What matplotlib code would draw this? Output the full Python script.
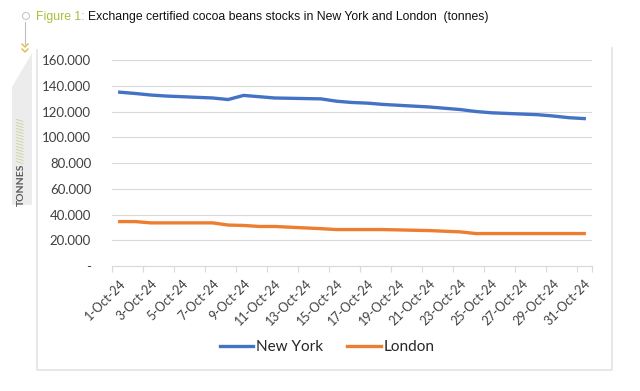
import numpy as np
import matplotlib
matplotlib.use("Agg")
import matplotlib.pyplot as plt
from matplotlib.patches import Polygon, Circle

# business days of October 2024 (day of month)
days = [1, 2, 3, 4, 7, 8, 9, 10, 11, 14, 15, 16, 17, 18, 21, 22, 23, 24, 25, 28, 29, 30, 31]
new_york = [135000, 134000, 132800, 132000, 130500, 129300, 132500, 131500, 130500, 129800,
            128000, 127000, 126500, 125500, 123500, 122500, 121500, 120000, 119000, 117500,
            116500, 115200, 114500]
london = [34500, 34500, 33500, 33500, 33500, 31800, 31500, 30700, 30700, 29000, 28300, 28300,
          28300, 28300, 27500, 27000, 26500, 25200, 25200, 25200, 25200, 25200, 25200]
label_days = list(range(1, 32, 2))
yticks = [0, 20000, 40000, 60000, 80000, 100000, 120000, 140000, 160000]

BLUE, ORANGE = "#4472C4", "#ED7D31"
GRID = "#d9d9d9"
TXT = "#404040"

W, H = 640, 391
fig = plt.figure(figsize=(W / 100, H / 100), dpi=100)

ax = fig.add_axes([112 / W, 1 - 266 / H, 480 / W, 206 / H])
ax.plot(days, new_york, color=BLUE, lw=2.4, label="New York")
ax.plot(days, london, color=ORANGE, lw=2.4, label="London")
ax.set_xlim(0.5, 31.5)
ax.set_ylim(0, 160000)
ax.set_yticks(yticks)
ax.set_yticklabels(["-" if v == 0 else f"{v:,}".replace(",", ".") for v in yticks],
                   fontfamily="Lato", fontsize=9.5, color=TXT)
ax.set_xticks(label_days)
ax.set_xticklabels([f"{d}-Oct-24" for d in label_days], rotation=45, ha="right",
                   rotation_mode="anchor", fontfamily="Lato", fontsize=9, color=TXT)
ax.set_xticks([d - 0.5 for d in label_days] + [31.5], minor=True)
ax.tick_params(axis="x", which="major", length=0, pad=8)
ax.tick_params(axis="x", which="minor", length=4, color=GRID, width=0.8)
ax.tick_params(axis="y", length=0, pad=15)
ax.grid(axis="y", color=GRID, lw=0.8)
ax.set_axisbelow(True)
for s in ["top", "right", "left"]:
    ax.spines[s].set_visible(False)
ax.spines["bottom"].set_color(GRID)
ax.spines["bottom"].set_linewidth(0.8)

leg = fig.legend(loc="center", bbox_to_anchor=(327 / W, 1 - 347 / H), ncol=2, frameon=False,
                 handlelength=2.2, columnspacing=1.6, handletextpad=0.15,
                 prop={"family": "Lato", "size": 11})
for t in leg.get_texts():
    t.set_color("#262626")

# decorations in pixel coordinates
deco = fig.add_axes([0, 0, 1, 1], zorder=-1)
deco.set_xlim(0, W)
deco.set_ylim(H, 0)
deco.axis("off")
deco.plot([36.5, 36.5, 612, 612], [50, 370, 370, 48], color="#e3e3e3", lw=1.2)
deco.add_patch(Polygon([[12, 87], [32, 53], [32, 205], [12, 205]], closed=True,
                       fc="#ececec", ec="none"))
deco.text(21, 206, "TONNES", rotation=90, ha="center", va="bottom", fontsize=7.5,
          fontfamily="Lato", fontweight="bold", color="#595959")
deco.text(21, 163, "///////////////", rotation=90, ha="center", va="bottom", fontsize=6.5,
          color="#c9cc8a")
deco.plot([25, 25], [22, 44], color="#bfbfbf", lw=0.8)
deco.add_patch(Circle((26, 16), 3.5, fill=False, ec="#c9c9c9", lw=0.8))
deco.plot([22, 25, 28], [44, 47, 44], color="#e0b84a", lw=1.0)
deco.plot([22, 25, 28], [49, 52, 49], color="#e0b84a", lw=1.0)

t1 = fig.text(36 / W, 1 - 17 / H, "Figure 1:", fontsize=8.8, fontfamily="Liberation Sans",
              color="#a6c13c", va="center")
fig.canvas.draw()
bb = t1.get_window_extent()
fig.text(bb.x1 / W + 3 / W, 1 - 17 / H,
         "Exchange certified cocoa beans stocks in New York and London  (tonnes)",
         fontsize=8.8, fontfamily="Liberation Sans", color="#111111", va="center")

fig.savefig("out.png", dpi=100)
